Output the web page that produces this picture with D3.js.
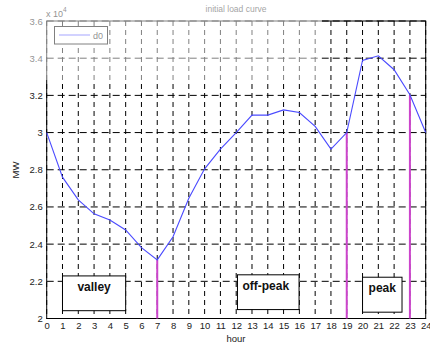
<!DOCTYPE html>
<html><head><meta charset="utf-8">
<script src="https://cdn.jsdelivr.net/npm/d3@7"></script>
<style>body{margin:0;background:#fff}svg{display:block}</style>
</head><body>
<script>
const hours = d3.range(0, 25);
const load = [30000, 27600, 26380, 25630, 25300, 24760, 23810, 23150, 24400, 26470, 28050, 29110, 30000, 30940, 30940, 31220, 31080, 30330, 29110, 30000, 33880, 34130, 33380, 32030, 30000];
const yTicks = [20000, 22000, 24000, 26000, 28000, 30000, 32000, 34000, 36000];
const markHours = [7, 19, 23];
const periods = [
  {label: "valley", x0: 1, x1: 5, y0: 20420, y1: 22290, anchor: "middle"},
  {label: "off-peak", x0: 12.08, x1: 15.98, y0: 20480, y1: 22350, anchor: "start"},
  {label: "peak", x0: 20, x1: 22.5, y0: 20340, y1: 22220, anchor: "middle"}
];

const W = 430, H = 346;
const svg = d3.select("body").append("svg").attr("width", W).attr("height", H);
const x = d3.scaleLinear().domain([0, 24]).range([46.7, 425.7]);
const y = d3.scaleLinear().domain([20000, 36000]).range([318.5, 21]);
const font = "Liberation Sans, Arial, sans-serif";

// grid
svg.append("g").selectAll("line").data(hours).join("line")
  .attr("x1", d => x(d)).attr("x2", d => x(d))
  .attr("y1", y(36000)).attr("y2", y(20000))
  .attr("stroke", "#000").attr("stroke-width", 1).attr("stroke-dasharray", "5,4");
svg.append("g").selectAll("line").data(yTicks).join("line")
  .attr("x1", x(0)).attr("x2", x(24))
  .attr("y1", d => y(d)).attr("y2", d => y(d))
  .attr("stroke", "#000").attr("stroke-width", 1).attr("stroke-dasharray", "7,4");

// axes
const xAxis = d3.axisBottom(x).tickValues(hours).tickSize(0).tickPadding(4).tickFormat(d3.format("d"));
const gx = svg.append("g").attr("transform", `translate(0,${y(20000)})`).call(xAxis);
const yAxis = d3.axisLeft(y).tickValues(yTicks).tickSize(0).tickPadding(4).tickFormat(d => d3.format("~g")(d / 10000));
const gy = svg.append("g").attr("transform", `translate(${x(0)},0)`).call(yAxis);
[gx, gy].forEach(g => {
  g.select(".domain").remove();
  g.selectAll("text").attr("font-family", font).attr("font-size", 9.5).attr("fill", "#222");
});

// frame
svg.append("rect").attr("x", x(0)).attr("y", y(36000))
  .attr("width", x(24) - x(0)).attr("height", y(20000) - y(36000))
  .attr("fill", "none").attr("stroke", "#000").attr("stroke-width", 1);

// magenta markers
svg.append("g").selectAll("line").data(markHours).join("line")
  .attr("x1", d => x(d)).attr("x2", d => x(d))
  .attr("y1", y(20000)).attr("y2", d => y(load[d]))
  .attr("stroke", "#cc44cc").attr("stroke-width", 2);

// load curve
const line = d3.line().x((d, i) => x(hours[i])).y(d => y(d));
svg.append("path").datum(load).attr("d", line)
  .attr("fill", "none").attr("stroke", "#4a4aff").attr("stroke-width", 1.1);

// period boxes
const pg = svg.append("g").selectAll("g").data(periods).join("g");
pg.append("rect")
  .attr("x", d => x(d.x0)).attr("y", d => y(d.y1))
  .attr("width", d => x(d.x1) - x(d.x0)).attr("height", d => y(d.y0) - y(d.y1))
  .attr("fill", "#fff").attr("stroke", "#000").attr("stroke-width", 1);
pg.append("text")
  .attr("x", d => d.anchor === "start" ? x(d.x0) + 5 : (x(d.x0) + x(d.x1)) / 2)
  .attr("y", d => y(d.y1) + 15)
  .attr("text-anchor", d => d.anchor)
  .attr("font-family", font).attr("font-size", 12).attr("font-weight", "bold")
  .attr("fill", "#111").text(d => d.label);

// legend
svg.append("rect").attr("x", 54.5).attr("y", 26.5).attr("width", 53).attr("height", 17.5)
  .attr("fill", "#fff").attr("stroke", "#000").attr("stroke-width", 1);
svg.append("line").attr("x1", 59).attr("x2", 90).attr("y1", 35).attr("y2", 35)
  .attr("stroke", "#4a4aff").attr("stroke-width", 1);
svg.append("text").attr("x", 93).attr("y", 38.5).attr("font-family", font).attr("font-size", 9)
  .attr("fill", "#222").text("d0");

// exponent label
const ex = svg.append("text").attr("x", 46).attr("y", 17).attr("font-family", font).attr("font-size", 9).attr("fill", "#222");
ex.append("tspan").text("x 10");
ex.append("tspan").attr("dy", -5).attr("font-size", 6.5).text("4");

// titles
svg.append("text").attr("x", 236).attr("y", 12).attr("text-anchor", "middle")
  .attr("font-family", font).attr("font-size", 8.5).attr("fill", "#444").text("initial load curve");
svg.append("text").attr("x", 236).attr("y", 342).attr("text-anchor", "middle")
  .attr("font-family", font).attr("font-size", 9.5).attr("fill", "#222").text("hour");
svg.append("text").attr("transform", "translate(19,170) rotate(-90)").attr("text-anchor", "middle")
  .attr("font-family", font).attr("font-size", 9.5).attr("fill", "#222").text("MW");

// faded top-left area as in reference
svg.append("rect").attr("x", 0).attr("y", 0).attr("width", 322).attr("height", 80)
  .attr("fill", "#fff").attr("opacity", 0.5);
</script>
</body></html>
